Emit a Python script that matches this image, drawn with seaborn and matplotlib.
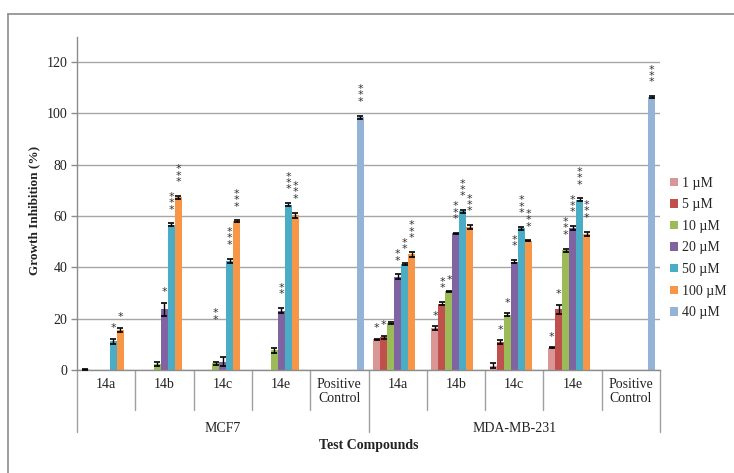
import matplotlib
matplotlib.use("Agg")
import matplotlib.pyplot as plt
from matplotlib.lines import Line2D
from matplotlib.patches import Patch
from matplotlib.container import BarContainer
import matplotlib.transforms as mtransforms
import seaborn as sns
import pandas as pd

# ---------------- data ----------------
cell_lines = ["MCF7", "MDA-MB-231"]
compounds = ["14a", "14b", "14c", "14e", "Positive\nControl"]
concs = ["1 µM", "5 µM", "10 µM", "20 µM", "50 µM", "100 µM", "40 µM"]

# values per (cell line, compound), ordered as concs
mcf7_values = [
    [0.2, 0, 0, 0, 11.2, 15.7, 0],
    [0, 0, 2.4, 23.7, 56.5, 67.3, 0],
    [0, 0, 2.6, 3.3, 42.5, 57.9, 0],
    [0, 0, 7.6, 23.1, 64.4, 60.3, 0],
    [0, 0, 0, 0, 0, 0, 98.5],
]
mcf7_errors = [
    [0.1, 0, 0, 0, 1.0, 0.8, 0],
    [0, 0, 0.9, 2.5, 0.6, 0.6, 0],
    [0, 0, 0.6, 1.6, 0.9, 0.4, 0],
    [0, 0, 1.1, 1.0, 0.6, 1.0, 0],
    [0, 0, 0, 0, 0, 0, 0.6],
]
mda_values = [
    [11.9, 12.8, 18.3, 36.3, 41.2, 45.1, 0],
    [16.3, 25.9, 30.6, 53.3, 61.8, 55.7, 0],
    [1.7, 10.8, 21.6, 42.2, 55.2, 50.3, 0],
    [8.6, 23.7, 46.7, 55.2, 66.4, 53.1, 0],
    [0, 0, 0, 0, 0, 0, 106.4],
]
mda_errors = [
    [0.2, 0.6, 0.3, 0.9, 0.4, 1.0, 0],
    [0.7, 0.6, 0.2, 0.2, 0.5, 0.7, 0],
    [1.1, 0.8, 0.5, 0.7, 0.5, 0.2, 0],
    [0.2, 1.8, 0.6, 0.8, 0.5, 0.8, 0],
    [0, 0, 0, 0, 0, 0, 0.3],
]
mcf7_stars = [
    ["", "", "", "", "*", "*", ""],
    ["", "", "", "*", "***", "***", ""],
    ["", "", "**", "", "***", "***", ""],
    ["", "", "", "**", "***", "***", ""],
    ["", "", "", "", "", "", "***"],
]
mda_stars = [
    ["*", "*", "", "**", "**", "***", ""],
    ["*", "**", "*", "***", "***", "***", ""],
    ["", "*", "*", "**", "***", "***", ""],
    ["*", "*", "***", "***", "***", "***", ""],
    ["", "", "", "", "", "", "***"],
]
y_ticks = [0, 20, 40, 60, 80, 100, 120]

colors = ["#D99694", "#C0504D", "#9BBB59", "#8064A2", "#4BACC6", "#F79646", "#95B3D7"]

# ---------------- build table ----------------
rows = []
keys = []
for cl, vals, errs, stars in [("MCF7", mcf7_values, mcf7_errors, mcf7_stars),
                               ("MDA-MB-231", mda_values, mda_errors, mda_stars)]:
    for ci, comp in enumerate(compounds):
        key = f"{cl}|{comp}"
        keys.append(key)
        for hi, conc in enumerate(concs):
            rows.append(dict(key=key, conc=conc, value=vals[ci][hi],
                             err=errs[ci][hi], star=stars[ci][hi]))
df = pd.DataFrame(rows)

# ---------------- figure ----------------
sns.set_theme(style="white")
plt.rcParams["font.family"] = ["Liberation Serif", "DejaVu Serif"]

W, H = 734, 473
fig = plt.figure(figsize=(W / 100, H / 100), dpi=100)
ax_l, ax_r, ax_b, ax_t = 77, 660, 370, 37
ax = fig.add_axes([ax_l / W, 1 - ax_b / H, (ax_r - ax_l) / W, (ax_b - ax_t) / H])

sns.barplot(data=df, x="key", y="value", hue="conc", order=keys, hue_order=concs,
            palette=colors, width=0.84, errorbar=None, saturation=1,
            legend=False, ax=ax, linewidth=0)

ax.set_xlim(-0.5, len(keys) - 0.5)
ax.set_ylim(0, 129.7)
ax.set_yticks(y_ticks)
ax.set_yticklabels([str(t) for t in y_ticks], fontsize=10, color="#222222")
ax.yaxis.grid(True, color="#A6A6A6", linewidth=1)
ax.set_axisbelow(True)
ax.tick_params(axis="y", length=4, width=1, color="#8C8C8C", direction="out", pad=3, left=True)
ax.tick_params(axis="x", length=0, labelbottom=False)
ax.set_xlabel("")
ax.set_ylabel("")
for s in ["top", "right"]:
    ax.spines[s].set_visible(False)
for s in ["left", "bottom"]:
    ax.spines[s].set_color("#8C8C8C")
    ax.spines[s].set_linewidth(1)

# error bars and significance stars, positioned from seaborn's bars
bar_conts = [c for c in ax.containers if isinstance(c, BarContainer)]
star_lift = {("MCF7|14c", "10 µM"): 11}
for hi, cont in enumerate(bar_conts):
    conc = concs[hi]
    for ci, patch in enumerate(cont.patches):
        key = keys[ci]
        rec = df[(df.key == key) & (df.conc == conc)].iloc[0]
        x = patch.get_x() + patch.get_width() / 2
        h = patch.get_height()
        if rec.err > 0:
            ax.errorbar(x, h, yerr=rec.err, fmt="none", ecolor="black",
                        elinewidth=1, capsize=2.3, capthick=1.2, zorder=4)
        if rec.star:
            pad = 2.2 if len(rec.star) == 1 else 3.4
            y0 = h + rec.err + pad + star_lift.get((key, conc), 0)
            ax.text(x, y0, "\n".join(rec.star), ha="center", va="bottom",
                    fontsize=8, linespacing=0.55, color="#333333",
                    family="DejaVu Sans", zorder=5)

# ---------------- multi-level category axis ----------------
trans = mtransforms.blended_transform_factory(ax.transData, ax.transAxes)
ah = ax_b - ax_t
line_kw = dict(color="#A0A0A0", linewidth=1, transform=trans, clip_on=False)
n = len(keys)
for k in range(n + 1):
    xpos = k - 0.5
    if k % len(compounds) == 0:
        ax.plot([xpos, xpos], [0, -62 / ah], **line_kw)
    else:
        ax.plot([xpos, xpos], [0, -40 / ah], **line_kw)
for ci, key in enumerate(keys):
    comp = key.split("|")[1]
    ax.text(ci, -8 / ah, comp, transform=trans, ha="center", va="top",
            fontsize=10, linespacing=1.15, color="#222222")
for gi, cl in enumerate(cell_lines):
    xc = gi * len(compounds) + (len(compounds) - 1) / 2
    ax.text(xc, -58 / ah, cl, transform=trans, ha="center", va="center",
            fontsize=10, color="#222222")
ax.text(0.5, -75 / ah, "Test Compounds", transform=ax.transAxes, ha="center",
        va="center", fontsize=10, fontweight="bold", color="#222222")

fig.text(34 / W, 1 - 210 / H, "Growth Inhibition (%)", rotation=90, ha="center",
         va="center", fontsize=9.5, fontweight="bold", color="#222222")

# ---------------- legend ----------------
handles = [Patch(facecolor=c, edgecolor="none") for c in colors]
fig.legend(handles, concs, loc="center left", bbox_to_anchor=(670 / W, 1 - 248 / H),
           frameon=False, fontsize=10, handlelength=0.55, handleheight=0.55,
           handletextpad=0.3, labelspacing=0.62, borderpad=0, borderaxespad=0)

# ---------------- outer frame ----------------
fig.add_artist(Line2D([8 / W, 8 / W], [0, 1 - 14 / H], color="#8C8C8C", linewidth=1.2,
                      transform=fig.transFigure))
fig.add_artist(Line2D([8 / W, 1], [1 - 14 / H, 1 - 14 / H], color="#8C8C8C",
                      linewidth=1.2, transform=fig.transFigure))

fig.savefig("out.png", dpi=100)
